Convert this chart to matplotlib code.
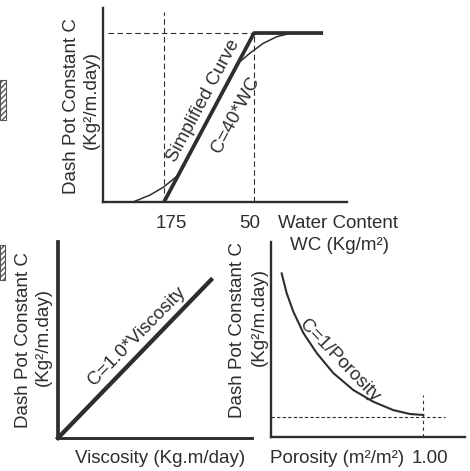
import matplotlib
matplotlib.use('Agg')
import matplotlib.pyplot as plt
from matplotlib.patches import Rectangle

plt.rcParams['font.family'] = ['Liberation Sans', 'DejaVu Sans']

# --- data (schematic units, 0..10 on each panel) ---
# water content panel
wc_tick_pos = [2.5, 6.19]
wc_tick_labels = ['175', '50']
simple_x = [2.5, 6.19, 9.02]
simple_c = [0.0, 8.71, 8.71]
real_x = [0.0, 1.23, 1.93, 2.47, 3.09, 4.3, 5.61, 6.02, 6.57, 7.12, 7.66, 8.2]
real_c = [0.0, 0.0, 0.36, 0.76, 1.39, 4.2, 7.23, 7.67, 8.18, 8.52, 8.69, 8.71]
c_max = 8.71

# viscosity panel
visc_x = [0.0, 7.89]
visc_c = [0.0, 8.07]

# porosity panel
por_x = [0.55, 0.81, 1.15, 1.67, 2.36, 3.21, 4.24, 5.27, 6.3, 7.16, 7.85]
por_c = [8.39, 7.37, 6.43, 5.33, 4.3, 3.28, 2.41, 1.81, 1.38, 1.18, 1.13]
por_full = 7.85
c_min = 1.03

W, H = 470, 471
INK = '#2e2e2e'
TXT = '#2e2e2e'
FS = 13.5


def box(x0, y0, x1, y1):
    return [x0 / W, 1 - y1 / H, (x1 - x0) / W, (y1 - y0) / H]


def px(x, y):
    return x / W, 1 - y / H


def setup(ax, lw_left=1.7, lw_bottom=1.7):
    ax.set_xlim(0, 10)
    ax.set_ylim(0, 10)
    for s in ['top', 'right']:
        ax.spines[s].set_visible(False)
    ax.spines['left'].set_linewidth(lw_left)
    ax.spines['bottom'].set_linewidth(lw_bottom)
    for s in ['left', 'bottom']:
        ax.spines[s].set_color(INK)
    ax.set_xticks([])
    ax.set_yticks([])
    ax.patch.set_alpha(0)


fig = plt.figure(figsize=(W / 100, H / 100), dpi=100)

# top panel
ax1 = fig.add_axes(box(103, 8, 347, 202))
setup(ax1)
dash = dict(color=INK, lw=0.8, ls=(0, (5, 3)), clip_on=False)
ax1.plot([0.2, wc_tick_pos[1]], [c_max, c_max], **dash)
ax1.plot([wc_tick_pos[0]] * 2, [0, 9.8], **dash)
ax1.plot([wc_tick_pos[1]] * 2, [0, c_max], **dash)
ax1.plot(real_x, real_c, color=INK, lw=1.1, clip_on=False)
ax1.plot(simple_x, simple_c, color=INK, lw=2.7, clip_on=False, solid_capstyle='butt')
ax1.text(4.10, 5.21, 'Simplified Curve', rotation=62, rotation_mode='anchor',
         ha='center', va='center', fontsize=FS, color=TXT)
ax1.text(5.45, 4.5, 'C=40*WC', rotation=62, rotation_mode='anchor',
         ha='center', va='center', fontsize=FS, color=TXT)

# viscosity panel
ax2 = fig.add_axes(box(58, 242, 252, 438))
setup(ax2, lw_left=2.7, lw_bottom=2.1)
ax2.plot(visc_x, visc_c, color=INK, lw=3.1, clip_on=False)
ax2.text(4.07, 5.2, 'C=1.0*Viscosity', rotation=45.5, rotation_mode='anchor',
         ha='center', va='center', fontsize=FS, color=TXT)

# porosity panel
ax3 = fig.add_axes(box(271, 242, 465, 437))
setup(ax3)
ax3.plot([0, 8.97], [c_min, c_min], color=INK, lw=0.8, ls=(0, (3, 2)), clip_on=False)
ax3.plot([por_full] * 2, [0, 2.15], color=INK, lw=0.8, ls=(0, (3, 3)), clip_on=False)
ax3.plot(por_x, por_c, color=INK, lw=1.5, clip_on=False)
ax3.text(3.55, 3.9, 'C=1/Porosity', rotation=-46, rotation_mode='anchor',
         ha='center', va='center', fontsize=FS, color=TXT)

# labels
tk = dict(fontsize=FS, color=TXT)
for pos, lab in zip(wc_tick_pos, wc_tick_labels):
    xp = 103 + pos * 24.4 + (7 if lab == '175' else -4)
    fig.text(*px(xp, 228), lab, ha='center', va='baseline', **tk)
fig.text(*px(338, 228), 'Water Content', ha='center', va='baseline', **tk)
fig.text(*px(340, 250), 'WC (Kg/m²)', ha='center', va='baseline', **tk)
fig.text(*px(160, 463), 'Viscosity (Kg.m/day)', ha='center', va='baseline', **tk)
fig.text(*px(337, 463), 'Porosity (m²/m²)', ha='center', va='baseline', **tk)
fig.text(*px(430, 463), '1.00', ha='center', va='baseline', **tk)

for (x1, y1), (x2, y2) in [((72, 106), (91, 100)),
                           ((24, 340), (43, 337)),
                           ((237, 330), (259, 317))]:
    fig.text(*px(x1, y1), 'Dash Pot Constant C', rotation=90,
             ha='center', va='center', **tk)
    fig.text(*px(x2, y2), '(Kg²/m.day)', rotation=90,
             ha='center', va='center', **tk)

# cropped hatched blocks at the left edge
for x0, y0, x1, y1 in [(0, 80, 6, 120), (0, 245, 5, 280)]:
    fig.patches.append(Rectangle(px(x0, y1), (x1 - x0) / W, (y1 - y0) / H,
                                 transform=fig.transFigure, fill=False,
                                 hatch='//////', edgecolor='#555555', lw=0.8))

fig.savefig('out.png', dpi=100)
